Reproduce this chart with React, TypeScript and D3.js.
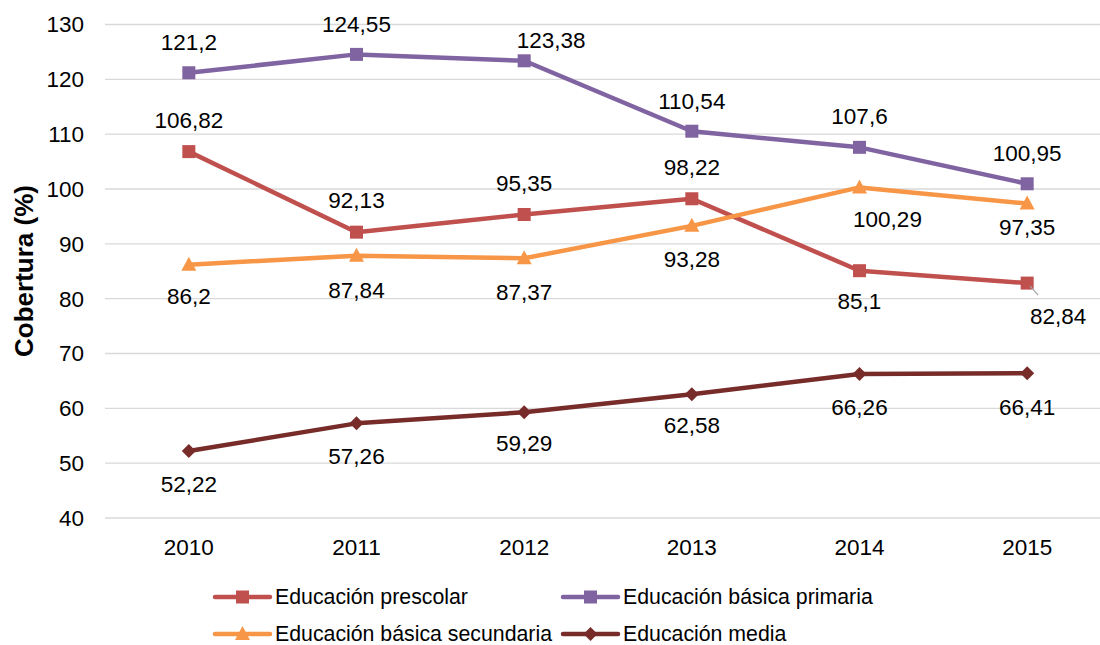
import React from "react";
import * as d3 from "d3";

const years = ["2010", "2011", "2012", "2013", "2014", "2015"];
const prescolar = [106.82, 92.13, 95.35, 98.22, 85.1, 82.84];
const primaria = [121.2, 124.55, 123.38, 110.54, 107.6, 100.95];
const secundaria = [86.2, 87.84, 87.37, 93.28, 100.29, 97.35];
const media = [52.22, 57.26, 59.29, 62.58, 66.26, 66.41];
const yTicks = [40, 50, 60, 70, 80, 90, 100, 110, 120, 130];

// label offsets (dx, dy) relative to point
const prescolarLabels: [number, number][] = [[0, -31], [0, -32], [0, -31], [0, -32], [0, 30], [31, 33]];
const primariaLabels: [number, number][] = [[0, -31], [0, -30], [27, -21], [0, -30], [0, -31], [0, -31]];
const secundariaLabels: [number, number][] = [[0, 31], [0, 34], [0, 34], [0, 33], [28, 32], [0, 24]];
const mediaLabels: [number, number][] = [[0, 33], [0, 33], [0, 31], [0, 31], [0, 33], [0, 34]];

const font = "'Liberation Sans', Arial, sans-serif";

type Series = {
  name: string;
  values: number[];
  color: string;
  marker: "square" | "triangle" | "diamond";
  labels: [number, number][];
};

const series: Series[] = [
  { name: "Educación prescolar", values: prescolar, color: "#C0504D", marker: "square", labels: prescolarLabels },
  { name: "Educación básica primaria", values: primaria, color: "#8064A2", marker: "square", labels: primariaLabels },
  { name: "Educación básica secundaria", values: secundaria, color: "#F79646", marker: "triangle", labels: secundariaLabels },
  { name: "Educación media", values: media, color: "#772C2A", marker: "diamond", labels: mediaLabels },
];

function Marker({ type, x, y, color }: { type: string; x: number; y: number; color: string }) {
  if (type === "square") return <rect x={x - 6.5} y={y - 6.5} width={13} height={13} fill={color} />;
  if (type === "triangle") return <path d={`M${x},${y - 8} L${x + 7.5},${y + 6} L${x - 7.5},${y + 6} Z`} fill={color} />;
  return <path d={`M${x},${y - 7} L${x + 7},${y} L${x},${y + 7} L${x - 7},${y} Z`} fill={color} />;
}

export default function App() {
  const width = 1100;
  const height = 645;
  const left = 105;
  const right = 1111;
  const x = d3.scaleBand<string>().domain(years).range([left, right]);
  const y = d3.scaleLinear().domain([40, 130]).range([518, 24.5]);
  const cx = (yr: string) => (x(yr) as number) + x.bandwidth() / 2;
  const line = d3
    .line<number>()
    .x((_, i) => cx(years[i]))
    .y((d) => y(d));

  const legendPos = [
    [215, 597],
    [563, 597],
    [215, 634],
    [563, 634],
  ];

  return (
    <svg width={width} height={height} style={{ position: "absolute", left: 0, top: 0 }} fontFamily={font}>
      <rect width={width} height={height} fill="#fff" />
      {yTicks.map((t) => (
        <g key={t}>
          <line x1={left} x2={width} y1={y(t)} y2={y(t)} stroke="#D9D9D9" strokeWidth={1.3} />
          <text x={84} y={y(t)} dy="0.35em" textAnchor="end" fontSize={22.5} fill="#000">
            {t}
          </text>
        </g>
      ))}
      {years.map((yr) => (
        <text key={yr} x={cx(yr)} y={547} dy="0.35em" textAnchor="middle" fontSize={22.5} fill="#000">
          {yr}
        </text>
      ))}
      <text
        transform={`translate(33,271) rotate(-90)`}
        textAnchor="middle"
        fontSize={26}
        fontWeight="bold"
        fill="#000"
      >
        Cobertura (%)
      </text>
      {series.map((s) => (
        <g key={s.name}>
          <path d={line(s.values) || ""} fill="none" stroke={s.color} strokeWidth={4.5} strokeLinejoin="round" strokeLinecap="round" />
          {s.values.map((v, i) => (
            <Marker key={i} type={s.marker} x={cx(years[i])} y={y(v)} color={s.color} />
          ))}
        </g>
      ))}
      {/* leader line for 82,84 */}
      <line
        x1={cx(years[5]) + 3}
        y1={y(prescolar[5]) + 3}
        x2={cx(years[5]) + 11}
        y2={y(prescolar[5]) + 12}
        stroke="#A6A6A6"
        strokeWidth={1.3}
      />
      {series.map((s) =>
        s.values.map((v, i) => (
          <text
            key={s.name + i}
            x={cx(years[i]) + s.labels[i][0]}
            y={y(v) + s.labels[i][1]}
            dy="0.35em"
            textAnchor="middle"
            fontSize={22.5}
            fill="#000"
          >
            {String(v).replace(".", ",")}
          </text>
        ))
      )}
      {series.map((s, i) => {
        const [lx, ly] = legendPos[i];
        return (
          <g key={"leg" + s.name}>
            <line x1={lx} x2={lx + 55} y1={ly} y2={ly} stroke={s.color} strokeWidth={4.5} strokeLinecap="round" />
            <Marker type={s.marker} x={lx + 27.5} y={ly} color={s.color} />
            <text x={lx + 60} y={ly} dy="0.35em" fontSize={21.3} fill="#000">
              {s.name}
            </text>
          </g>
        );
      })}
    </svg>
  );
}
